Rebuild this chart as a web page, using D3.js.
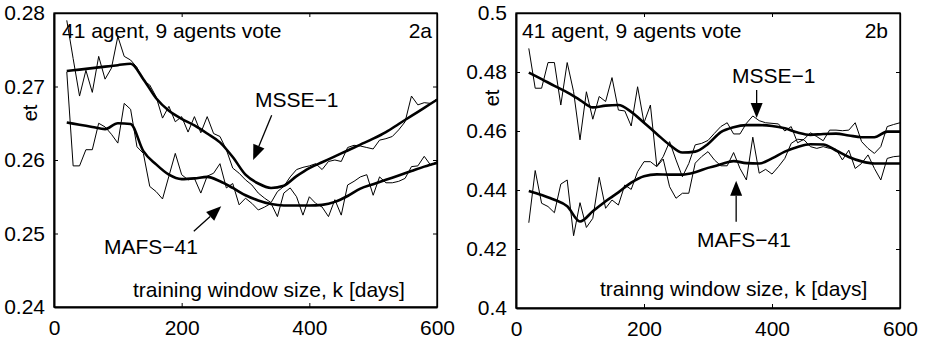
<!DOCTYPE html>
<html>
<head>
<meta charset="utf-8">
<script src="https://d3js.org/d3.v7.min.js"></script>
<style>
  body { margin: 0; background: #fff; }
  text { font-family: "Liberation Sans", Arial, Helvetica, sans-serif; fill: #000; }
</style>
</head>
<body>
<svg id="chart" width="925" height="342"></svg>
<script>
// x grid of the raw (noisy) curves and of the smoothed curves
var kNoisy = [20,30,40,50,60,70,80,90,100,110,120,130,140,150,160,170,180,190,200,210,
  220,230,240,250,260,270,280,290,300,310,320,330,340,350,360,370,380,390,400,410,
  420,430,440,450,460,470,480,490,500,510,520,530,540,550,560,570,580,590,600]
var kSmooth = [20,40,60,80,100,120,140,160,180,200,220,240,260,280,300,
  320,340,360,380,400,420,440,460,480,500,520,540,560,580,600]

// panel 2a
var msseRawA = [.2790,.2738,.2687,.2722,.2692,.2741,.2710,.2725,.2768,.2741,.2736,.2726,.2708,.2702,.2686,
  .2657,.2673,.2652,.2659,.2638,.2659,.2637,.2659,.2636,.2632,.2614,.2589,.2582,.2573,.2566,
  .2555,.2548,.2542,.2557,.2564,.2577,.2587,.2590,.2592,.2595,.2587,.2598,.2600,.2598,.2617,
  .2620,.2619,.2617,.2615,.2627,.2629,.2632,.2641,.2652,.2687,.2675,.2678,.2677,.2683]
var mafsRawA = [.2720,.2592,.2592,.2614,.2614,.2650,.2645,.2635,.2623,.2677,.2669,.2618,.2609,.2564,.2557,
  .2547,.2578,.2609,.2580,.2573,.2575,.2555,.2578,.2582,.2595,.2562,.2568,.2539,.2548,.2541,
  .2532,.2536,.2541,.2523,.2555,.2562,.2550,.2525,.2550,.2541,.2536,.2523,.2546,.2525,.2566,
  .2571,.2577,.2580,.2552,.2577,.2569,.2569,.2571,.2575,.2591,.2592,.2605,.2593,.2598]
var msseSmoothA = [.2721,.2723,.2725,.2727,.2729,.2731,.2710,.2684,.2667,.2656,.2647,.2636,.2624,.2604,.2580,
  .2568,.2562,.2565,.2578,.2589,.2597,.2605,.2613,.2621,.2629,.2638,.2649,.2660,.2671,.2682]
var mafsSmoothA = [.2651,.2648,.2645,.2642,.2650,.2649,.2612,.2594,.2580,.2574,.2575,.2577,.2571,.2562,.2552,
  .2545,.2540,.2538,.2538,.2538,.2539,.2543,.2551,.2561,.2567,.2573,.2579,.2585,.2591,.2596]

// panel 2b
var msseRawB = [.4880,.4745,.4745,.4832,.4832,.4688,.4832,.4733,.4570,.4733,.4640,.4717,.4700,.4781,.4671,
  .4668,.4617,.4750,.4628,.4688,.4481,.4513,.4564,.4502,.4445,.4490,.4553,.4558,.4568,.4592,
  .4615,.4628,.4590,.4590,.4626,.4651,.4635,.4628,.4626,.4624,.4600,.4615,.4560,.4572,.4594,
  .4581,.4567,.4603,.4603,.4601,.4603,.4628,.4564,.4541,.4524,.4547,.4615,.4622,.4628]
var mafsRawB = [.4289,.4466,.4355,.4344,.4323,.4420,.4434,.4245,.4357,.4273,.4304,.4443,.4338,.4366,.4349,
  .4417,.4402,.4462,.4496,.4496,.4479,.4505,.4411,.4372,.4389,.4389,.4491,.4513,.4530,.4502,
  .4482,.4482,.4527,.4473,.4434,.4579,.4457,.4470,.4454,.4479,.4507,.4558,.4572,.4570,.4547,
  .4541,.4547,.4541,.4538,.4502,.4535,.4473,.4490,.4519,.4473,.4434,.4507,.4513,.4515]
var msseSmoothB = [.4798,.4776,.4753,.4731,.4705,.4680,.4686,.4688,.4665,.4628,.4590,.4553,.4527,.4530,.4556,
  .4596,.4613,.4620,.4620,.4617,.4609,.4595,.4587,.4590,.4591,.4585,.4579,.4579,.4598,.4598]
var mafsSmoothB = [.4397,.4383,.4367,.4345,.4293,.4328,.4362,.4392,.4425,.4447,.4453,.4452,.4452,.4460,.4475,
  .4487,.4498,.4491,.4490,.4507,.4530,.4546,.4555,.4554,.4534,.4512,.4497,.4490,.4490,.4490]

var xTicks = [0, 200, 400, 600]
var yTicksA = [0.24, 0.25, 0.26, 0.27, 0.28]
var yLabelsA = ['0.24', '0.25', '0.26', '0.27', '0.28']
var yTicksB = [0.40, 0.42, 0.44, 0.46, 0.48, 0.50]
var yLabelsB = ['0.4', '0.42', '0.44', '0.46', '0.48', '0.5']

var svg = d3.select('#chart')
var fontSize = '21px'

function panel(opt) {
  var x = d3.scaleLinear().domain([0, 600]).range([opt.left, opt.right])
  var y = d3.scaleLinear().domain(opt.yDomain).range([opt.bottom, opt.top])
  var g = svg.append('g')

  // frame
  g.append('rect')
    .attr('x', opt.left).attr('y', opt.top)
    .attr('width', opt.right - opt.left).attr('height', opt.bottom - opt.top)
    .attr('fill', 'none').attr('stroke', '#000').attr('stroke-width', 1.3)

  var fmt = function(d, i) { return opt.yLabels[i] }
  var axes = [
    [d3.axisBottom(x).tickValues(xTicks).tickFormat(d3.format('d')), 'translate(0,' + opt.bottom + ')'],
    [d3.axisLeft(y).tickValues(opt.yTicks).tickFormat(fmt), 'translate(' + opt.left + ',0)'],
    [d3.axisTop(x).tickValues(xTicks).tickFormat(''), 'translate(0,' + opt.top + ')'],
    [d3.axisRight(y).tickValues(opt.yTicks).tickFormat(''), 'translate(' + opt.right + ',0)']
  ]
  axes.forEach(function(a, i) {
    var ax = g.append('g')
      .attr('transform', a[1])
      .call(a[0].tickSizeInner(-4).tickSizeOuter(0).tickPadding(i == 0 ? 13 : 9))
    ax.select('.domain').attr('stroke-width', i < 2 ? 2 : 1.3)
    ax.selectAll('.tick line').attr('stroke-width', 1)
    ax.selectAll('text').style('font-size', fontSize).attr('font-family', null)
  })

  var line = d3.line().x(function(d) { return x(d[0]) }).y(function(d) { return y(d[1]) })
  var smooth = d3.line().curve(d3.curveMonotoneX).x(function(d) { return x(d[0]) }).y(function(d) { return y(d[1]) })

  opt.raw.forEach(function(s) {
    g.append('path').datum(d3.zip(kNoisy, s))
      .attr('d', line).attr('fill', 'none').attr('stroke', '#000').attr('stroke-width', 1)
  })
  opt.smooth.forEach(function(s) {
    g.append('path').datum(d3.zip(kSmooth, s))
      .attr('d', smooth).attr('fill', 'none').attr('stroke', '#000').attr('stroke-width', 2.6)
  })

  // arrows
  opt.arrows.forEach(function(a) {
    var x0 = x(a[0]), y0 = y(a[1]), x1 = x(a[2]), y1 = y(a[3])
    var dx = x1 - x0, dy = y1 - y0, L = Math.sqrt(dx * dx + dy * dy)
    var ux = dx / L, uy = dy / L, hl = 15, hw = 6
    var bx = x1 - ux * hl, by = y1 - uy * hl
    g.append('line').attr('x1', x0).attr('y1', y0).attr('x2', bx).attr('y2', by)
      .attr('stroke', '#000').attr('stroke-width', 1.3)
    g.append('polygon')
      .attr('points', [[x1, y1], [bx - uy * hw, by + ux * hw], [bx + uy * hw, by - ux * hw]].join(' '))
      .attr('fill', '#000')
  })

  // texts
  opt.texts.forEach(function(t) {
    g.append('text').attr('x', t[0]).attr('y', t[1])
      .attr('text-anchor', t[3] || 'start')
      .style('font-size', fontSize).text(t[2])
  })
  g.append('text')
    .attr('transform', 'translate(' + opt.etX + ',' + opt.etY + ') rotate(-90)')
    .attr('text-anchor', 'middle').style('font-size', '20px').text('et')
}

panel({
  left: 54, right: 437, top: 13, bottom: 307,
  yDomain: [0.24, 0.28], yTicks: yTicksA, yLabels: yLabelsA,
  raw: [msseRawA, mafsRawA], smooth: [msseSmoothA, mafsSmoothA],
  arrows: [[341, 0.2661, 312, 0.2600], [219, 0.2503, 262, 0.2537]],
  texts: [[62, 38, '41 agent, 9 agents vote'], [432, 38, '2a', 'end'],
    [255, 107, 'MSSE\u22121'], [104, 254, 'MAFS\u221241'],
    [133, 297, 'training window size, k [days]']],
  etX: 37, etY: 113
})

panel({
  left: 516, right: 900, top: 13, bottom: 308,
  yDomain: [0.40, 0.50], yTicks: yTicksB, yLabels: yLabelsB,
  raw: [msseRawB, mafsRawB], smooth: [msseSmoothB, mafsSmoothB],
  arrows: [[376, 0.4739, 376, 0.4644], [344, 0.4292, 344, 0.4431]],
  texts: [[522, 38, '41 agent, 9 agents vote'], [888, 38, '2b', 'end'],
    [732, 83, 'MSSE\u22121'], [697, 247, 'MAFS\u221241'],
    [600, 296, 'trainng window size, k [days]']],
  etX: 499, etY: 98
})
</script>
</body>
</html>
